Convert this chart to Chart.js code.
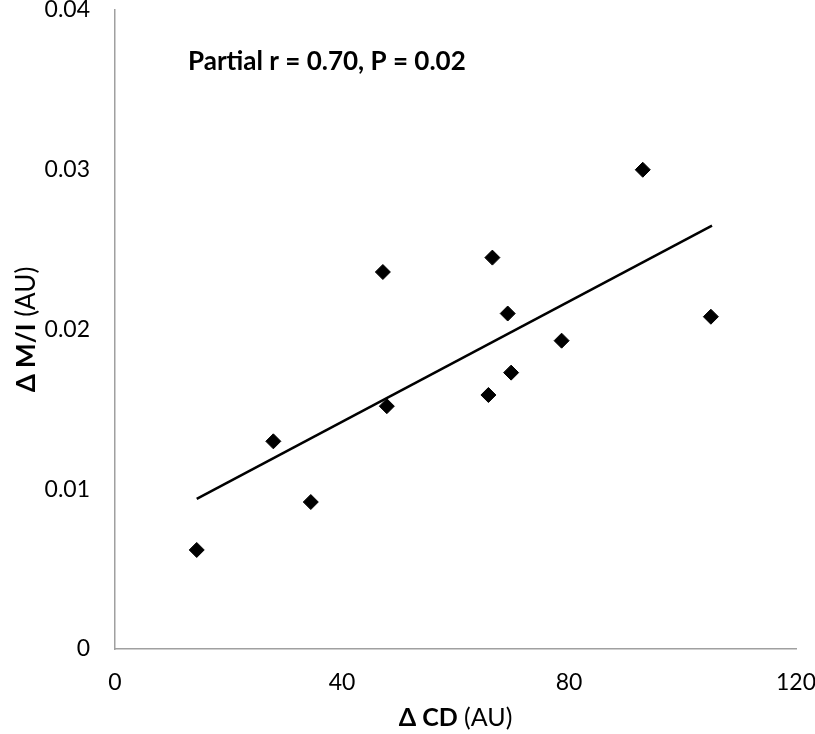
<!DOCTYPE html>
<html>
<head>
<meta charset="utf-8">
<script src="https://cdn.jsdelivr.net/npm/chart.js@4/dist/chart.umd.min.js"></script>
<style>
  html, body { margin: 0; padding: 0; background: #ffffff; }
  #wrap { position: relative; width: 815px; height: 734px; }
</style>
</head>
<body>
<div id="wrap"><canvas id="c" width="815" height="734"></canvas></div>
<script>
// ---- data ----
const deltaCD = [14.4, 27.9, 34.5, 47.2, 47.9, 65.8, 66.5, 69.2, 69.8, 78.7, 93.0, 105.0];
const deltaMI = [0.0062, 0.0130, 0.0092, 0.0236, 0.0152, 0.0159, 0.0245, 0.0210, 0.0173, 0.0193, 0.0300, 0.0208];
const trendX = [14.4, 105.2];
const trendY = [0.0094, 0.0265];
const xTickValues = [0, 40, 80, 120];
const xTickLabels = ['0', '40', '80', '120'];
const yTickValues = [0, 0.01, 0.02, 0.03, 0.04];
const yTickLabels = ['0', '0.01', '0.02', '0.03', '0.04'];
const annotationText = 'Par\u200Ctial r = 0.70, P = 0.02';
const xTitleBold = 'Δ CD';
const xTitleNormal = ' (AU)';
const yTitleBold = 'Δ M/I';
const yTitleNormal = ' (AU)';

const FONT = 'Lato, "Open Sans", "Liberation Sans", sans-serif';

function labelFor(values, labels, v) {
  for (let i = 0; i < values.length; i++) {
    if (Math.abs(values[i] - v) < 1e-9) return labels[i];
  }
  return '';
}

function drawMixed(ctx, bold, normal, size, cx, cy) {
  const boldF = 'bold ' + size + 'px ' + FONT;
  const normF = size + 'px ' + FONT;
  ctx.font = boldF; const wb = ctx.measureText(bold).width;
  ctx.font = normF; const wn = ctx.measureText(normal).width;
  const sx = cx - (wb + wn) / 2;
  ctx.font = boldF; ctx.fillText(bold, sx, cy);
  ctx.font = normF; ctx.fillText(normal, sx + wb, cy);
}

const textPlugin = {
  id: 'textPlugin',
  afterDraw(chart) {
    const ctx = chart.ctx;
    const ca = chart.chartArea;
    ctx.save();
    ctx.fillStyle = '#000000';
    ctx.textBaseline = 'middle';
    ctx.textAlign = 'left';

    // annotation
    ctx.font = 'bold 26px ' + FONT;
    ctx.fillText(annotationText, ca.left + 73, ca.top + 52);

    // x title
    drawMixed(ctx, xTitleBold, xTitleNormal, 25, (ca.left + ca.right) / 2, 718);

    // y title rotated
    ctx.translate(27, (ca.top + ca.bottom) / 2);
    ctx.rotate(-Math.PI / 2);
    drawMixed(ctx, yTitleBold, yTitleNormal, 26, 0, 0);
    ctx.restore();
  }
};

const scatterData = deltaCD.map((x, i) => ({ x: x, y: deltaMI[i] }));
const trendData = trendX.map((x, i) => ({ x: x, y: trendY[i] }));

new Chart(document.getElementById('c'), {
  type: 'scatter',
  data: {
    datasets: [
      {
        type: 'line',
        data: trendData,
        borderColor: '#000000',
        borderWidth: 2.5,
        pointRadius: 0,
        fill: false,
        tension: 0,
        order: 2
      },
      {
        type: 'scatter',
        data: scatterData,
        pointStyle: 'rectRot',
        pointRadius: 7.5,
        pointHoverRadius: 7.5,
        backgroundColor: '#000000',
        borderColor: '#000000',
        borderWidth: 1,
        order: 1
      }
    ]
  },
  options: {
    responsive: false,
    animation: false,
    events: [],
    layout: { padding: { left: 0, right: 19, top: 10, bottom: 0 } },
    plugins: {
      legend: { display: false },
      tooltip: { enabled: false },
      title: { display: false }
    },
    scales: {
      x: {
        type: 'linear',
        min: 0,
        max: 120,
        afterBuildTicks(scale) { scale.ticks = xTickValues.map(v => ({ value: v })); },
        afterFit(scale) {
          scale.height = 85;
          scale.paddingLeft = 0;
          scale.paddingRight = 0;
        },
        grid: { display: false, drawTicks: false },
        border: { display: true, color: '#a0a0a0', width: 1.5 },
        ticks: {
          color: '#000000',
          font: { family: FONT, size: 23, lineHeight: 1.0 },
          padding: 22,
          maxRotation: 0,
          callback: (v) => labelFor(xTickValues, xTickLabels, v)
        }
      },
      y: {
        type: 'linear',
        min: 0,
        max: 0.04,
        afterBuildTicks(scale) { scale.ticks = yTickValues.map(v => ({ value: v })); },
        afterFit(scale) {
          scale.width = 115;
          scale.paddingTop = 0;
          scale.paddingBottom = 0;
        },
        grid: { display: false, drawTicks: false },
        border: { display: true, color: '#a0a0a0', width: 1.5 },
        ticks: {
          color: '#000000',
          font: { family: FONT, size: 23, lineHeight: 1.0 },
          padding: 25,
          callback: (v) => labelFor(yTickValues, yTickLabels, v)
        }
      }
    }
  },
  plugins: [textPlugin]
});
</script>
</body>
</html>
